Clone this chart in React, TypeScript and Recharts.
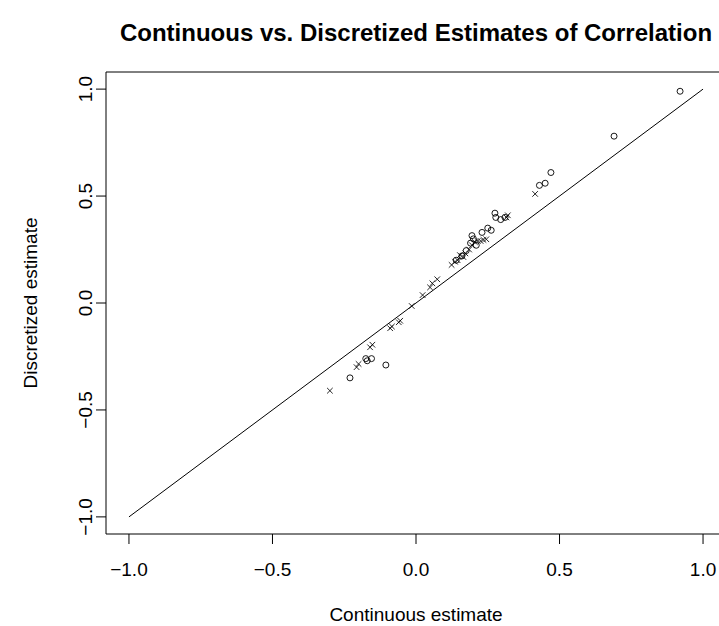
import React from 'react';
import {
  ScatterChart,
  Scatter,
  XAxis,
  YAxis,
  ReferenceLine,
  Customized,
} from 'recharts';

// Tick positions shared by both axes
const axisTicks = [-1, -0.5, 0, 0.5, 1];

// Pairs plotted with open circles
const circleContinuous = [
  -0.23, -0.175, -0.17, -0.155, -0.105,
  0.14, 0.16, 0.175, 0.19, 0.195, 0.2, 0.21, 0.23, 0.25, 0.262,
  0.275, 0.278, 0.295, 0.31, 0.43, 0.45, 0.47, 0.69, 0.92,
];
const circleDiscretized = [
  -0.35, -0.26, -0.27, -0.26, -0.29,
  0.2, 0.22, 0.245, 0.28, 0.315, 0.3, 0.27, 0.33, 0.35, 0.34,
  0.42, 0.4, 0.39, 0.4, 0.55, 0.56, 0.61, 0.78, 0.99,
];

// Pairs plotted with crosses
const crossContinuous = [
  -0.3, -0.207, -0.2, -0.16, -0.152, -0.09, -0.084, -0.06, -0.055,
  -0.015, 0.023, 0.049, 0.057, 0.074,
  0.124, 0.136, 0.145, 0.153, 0.165, 0.172, 0.185, 0.195, 0.205,
  0.215, 0.225, 0.235, 0.245, 0.315, 0.32, 0.415,
];
const crossDiscretized = [
  -0.41, -0.3, -0.285, -0.207, -0.195, -0.118, -0.11, -0.09, -0.083,
  -0.014, 0.037, 0.073, 0.092, 0.111,
  0.178, 0.193, 0.2, 0.224, 0.215, 0.232, 0.25, 0.27, 0.285,
  0.29, 0.29, 0.295, 0.298, 0.4, 0.41, 0.51,
];

const circlePoints = circleContinuous.map((x, i) => ({ x, y: circleDiscretized[i] }));
const crossPoints = crossContinuous.map((x, i) => ({ x, y: crossDiscretized[i] }));

const FONT = '"Liberation Sans", Arial, Helvetica, sans-serif';

const fmt = (v: number) => v.toFixed(1).replace('-', '\u2212');

const CircleMark = (props: any) => {
  const { cx, cy } = props;
  if (cx == null || cy == null) return null;
  return <circle cx={cx} cy={cy} r={3} fill="none" stroke="#000" strokeWidth={0.9} />;
};

const CrossMark = (props: any) => {
  const { cx, cy } = props;
  if (cx == null || cy == null) return null;
  const h = 2.8;
  return (
    <g stroke="#000" strokeWidth={0.85}>
      <line x1={cx - h} y1={cy - h} x2={cx + h} y2={cy + h} />
      <line x1={cx - h} y1={cy + h} x2={cx + h} y2={cy - h} />
    </g>
  );
};

const XTick = (props: any) => {
  const { x, y, payload } = props;
  return (
    <text x={x} y={y + 30} textAnchor="middle" fontSize={19} fontFamily={FONT} fill="#000">
      {fmt(payload.value)}
    </text>
  );
};

const YTick = (props: any) => {
  const { x, y, payload } = props;
  const bx = x - 2;
  return (
    <text
      x={bx}
      y={y}
      textAnchor="middle"
      transform={`rotate(-90, ${bx}, ${y})`}
      fontSize={19}
      fontFamily={FONT}
      fill="#000"
    >
      {fmt(payload.value)}
    </text>
  );
};

const Titles = () => (
  <g fontFamily={FONT} fill="#000">
    <text x={416} y={41} textAnchor="middle" fontSize={24} fontWeight="bold">
      Continuous vs. Discretized Estimates of Correlation
    </text>
    <text x={416} y={621} textAnchor="middle" fontSize={19}>
      Continuous estimate
    </text>
    <text
      x={37}
      y={303}
      textAnchor="middle"
      fontSize={19}
      transform="rotate(-90, 37, 303)"
    >
      Discretized estimate
    </text>
  </g>
);

export default function App() {
  return (
    <div
      style={{
        position: 'absolute',
        left: 0,
        top: 0,
        width: 719,
        height: 626,
        overflow: 'hidden',
        background: '#fff',
      }}
    >
      <ScatterChart
        width={740}
        height={626}
        margin={{ top: 72, right: 14, bottom: 52, left: 66 }}
      >
        <XAxis
          type="number"
          dataKey="x"
          domain={[-1.08, 1.08]}
          ticks={axisTicks}
          interval={0}
          height={40}
          axisLine={{ stroke: '#000', strokeWidth: 1 }}
          tickLine={{ stroke: '#000', strokeWidth: 1 }}
          tickSize={10}
          tick={<XTick />}
          allowDataOverflow
        />
        <YAxis
          type="number"
          dataKey="y"
          domain={[-1.08, 1.08]}
          ticks={axisTicks}
          interval={0}
          width={40}
          axisLine={{ stroke: '#000', strokeWidth: 1 }}
          tickLine={{ stroke: '#000', strokeWidth: 1 }}
          tickSize={10}
          tick={<YTick />}
          allowDataOverflow
        />
        <ReferenceLine y={1.08} stroke="#000" strokeWidth={1} />
        <ReferenceLine x={1.08} stroke="#000" strokeWidth={1} />
        <ReferenceLine
          segment={[
            { x: -1, y: -1 },
            { x: 1, y: 1 },
          ]}
          stroke="#000"
          strokeWidth={1}
        />
        <Scatter data={circlePoints} shape={<CircleMark />} isAnimationActive={false} />
        <Scatter data={crossPoints} shape={<CrossMark />} isAnimationActive={false} />
        <Customized component={Titles} />
      </ScatterChart>
    </div>
  );
}
